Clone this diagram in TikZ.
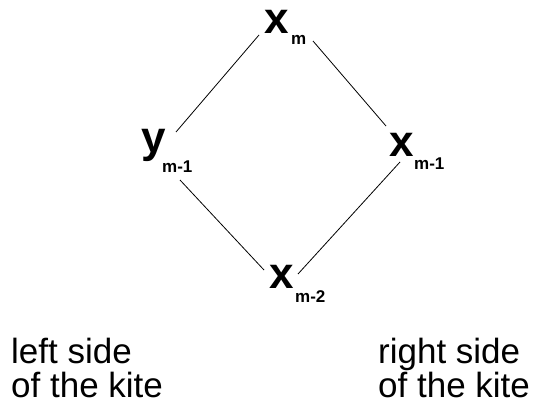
\documentclass[tikz,border=0pt]{standalone}
\usepackage{fontspec}
\setmainfont{Liberation Sans}
\usepackage{tikz}
\usetikzlibrary{positioning}

\begin{document}
\begin{tikzpicture}[x=1pt,y=-1pt,
  letter/.style={inner sep=0pt,anchor=base west,font=\fontsize{44}{44}\selectfont\bfseries},
  sub/.style={inner sep=0pt,anchor=base west,font=\fontsize{17}{17}\selectfont\bfseries},
  side/.style={inner sep=0pt,anchor=base west,align=left,font=\fontsize{35}{34}\selectfont},
  kite/.style={line width=0.8pt}%
]
\useasboundingbox (0,0) rectangle (541,409);
\begin{scope}
\node[letter] (xm) at (264,34) {x};
\node[sub] (xms) at (291,45) {m};
\node[letter] (ym) at (141,153) {y};
\node[sub] (yms) at (162,173) {m-1};
\node[letter] (xmi) at (389,157) {x};
\node[sub] (xmis) at (414,170) {m-1};
\node[letter] (xmii) at (269,288) {x};
\node[sub] (xmiis) at (295,302) {m-2};
\end{scope}
\begin{scope}[kite]
\draw ([shift={(-5,1)}]xm.base west) -- ([shift={(35,-21)}]ym.base west);
\draw ([shift={(22,-4)}]xms.base west) -- ([shift={(-3,-31)}]xmi.base west);
\draw ([shift={(18,7)}]yms.base west) -- ([shift={(-5,-18)}]xmii.base west);
\draw ([shift={(11,5)}]xmi.base west) -- ([shift={(29,-14)}]xmii.base west);
\end{scope}
\node[side] (left) at (11,397) {left side\\of the kite};
\node[side] (right) at (378,397) {right side\\of the kite};
\end{tikzpicture}
\end{document}
